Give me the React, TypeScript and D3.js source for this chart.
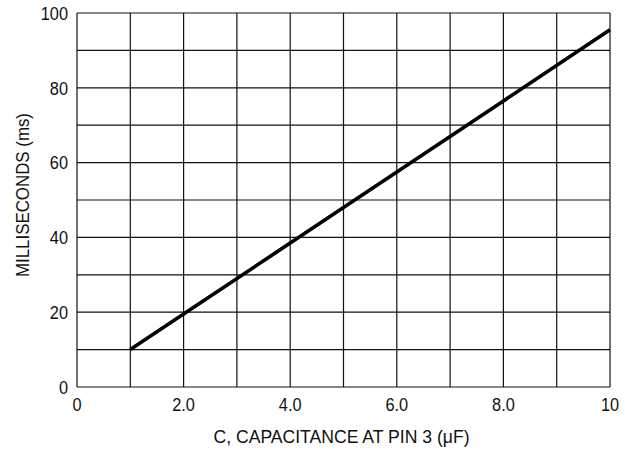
import React from "react";
import * as d3 from "d3";

// values
const capacitance = [1, 2, 4, 6, 8, 10];
const milliseconds = [10, 19.5, 38.5, 57.5, 76.5, 95.5];

const xTicks = [0, 2, 4, 6, 8, 10];
const xTickLabels = ["0", "2.0", "4.0", "6.0", "8.0", "10"];
const yTicks = [0, 20, 40, 60, 80, 100];
const xGrid = d3.range(0, 11, 1);
const yGrid = d3.range(0, 101, 10);

const width = 632;
const height = 452;
const margin = { top: 13, right: 22, bottom: 65, left: 77 };
const font = "'Liberation Sans Narrow', 'Arial Narrow', 'Liberation Sans', sans-serif";
const squeeze = 0.86; // narrow the glyphs like the condensed face of the original

const App = () => {
  const x = d3
    .scaleLinear()
    .domain([0, 10])
    .range([margin.left, width - margin.right]);
  const y = d3
    .scaleLinear()
    .domain([0, 100])
    .range([height - margin.bottom, margin.top]);

  const line = d3
    .line<number>()
    .x((d) => x(d))
    .y((_, i) => y(milliseconds[i]));

  return (
    <svg
      width={width}
      height={height}
      style={{ position: "absolute", left: 0, top: 0, background: "#fff" }}
    >
      <rect x={0} y={0} width={width} height={height} fill="#fff" />
      {/* grid */}
      <g stroke="#111" strokeWidth={1.2}>
        {xGrid.map((v) => (
          <line key={"x" + v} x1={x(v)} x2={x(v)} y1={y(0)} y2={y(100)} />
        ))}
        {yGrid.map((v) => (
          <line key={"y" + v} x1={x(0)} x2={x(10)} y1={y(v)} y2={y(v)} />
        ))}
      </g>

      {/* curve */}
      <path
        d={line(capacitance) ?? ""}
        fill="none"
        stroke="#000"
        strokeWidth={3.6}
      />

      {/* y tick labels */}
      <g fontFamily={font} fontSize={19} fill="#111" textAnchor="end">
        {yTicks.map((v) => (
          <text
            key={v}
            transform={`translate(${x(0) - 9},${y(v)}) scale(${squeeze},1)`}
            dy="0.36em"
          >
            {v}
          </text>
        ))}
      </g>

      {/* x tick labels */}
      <g fontFamily={font} fontSize={19} fill="#111" textAnchor="middle">
        {xTicks.map((v, i) => (
          <text
            key={v}
            transform={`translate(${x(v)},${y(0) + 24}) scale(${squeeze},1)`}
          >
            {xTickLabels[i]}
          </text>
        ))}
      </g>

      {/* axis titles */}
      <text
        x={(x(0) + x(10)) / 2 - 2}
        y={height - 9}
        textAnchor="middle"
        fontFamily={font}
        fontSize={19}
        fill="#111"
        textLength={256}
        lengthAdjust="spacingAndGlyphs"
      >
        C, CAPACITANCE AT PIN 3 (μF)
      </text>
      <text
        transform={`translate(29,${(y(0) + y(100)) / 2 - 5}) rotate(-90)`}
        textAnchor="middle"
        fontFamily={font}
        fontSize={19}
        fill="#111"
        textLength={164}
        lengthAdjust="spacingAndGlyphs"
      >
        MILLISECONDS (ms)
      </text>
    </svg>
  );
};

export default App;
